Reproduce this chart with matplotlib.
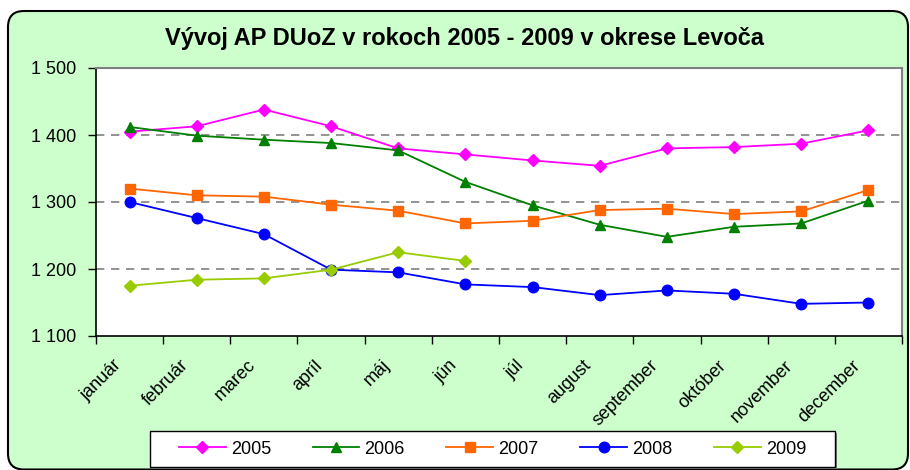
import matplotlib
matplotlib.use("Agg")
import matplotlib.pyplot as plt
from matplotlib.patches import FancyBboxPatch, Rectangle
from matplotlib.ticker import FuncFormatter, FixedLocator
from matplotlib.transforms import ScaledTranslation

plt.rcParams['font.family'] = ['Liberation Sans', 'DejaVu Sans']

months = ["január", "február", "marec", "apríl", "máj", "jún", "júl",
          "august", "september", "október", "november", "december"]

v2005 = [1405, 1413, 1438, 1413, 1380, 1371, 1362, 1354, 1380, 1382, 1387, 1407]
v2006 = [1412, 1399, 1393, 1388, 1377, 1330, 1295, 1266, 1248, 1263, 1268, 1302]
v2007 = [1320, 1310, 1308, 1296, 1287, 1268, 1272, 1288, 1290, 1282, 1286, 1318]
v2008 = [1300, 1276, 1252, 1199, 1195, 1177, 1173, 1161, 1168, 1163, 1148, 1150]
v2009 = [1175, 1184, 1186, 1199, 1225, 1212]

series = [
    ("2005", v2005, "#FF00FF", "D", 6.6),
    ("2006", v2006, "#008000", "^", 7.8),
    ("2007", v2007, "#FF6600", "s", 7.2),
    ("2008", v2008, "#0000FF", "o", 7.6),
    ("2009", v2009, "#99CC00", "D", 6.6),
]

title = "Vývoj AP DUoZ v rokoch 2005 - 2009 v okrese Levoča"
yticks = [1100, 1200, 1300, 1400, 1500]

W, H = 910, 470
fig = plt.figure(figsize=(W / 100, H / 100), dpi=100, facecolor="white")

# rounded green background
bg = FancyBboxPatch((8, 0.5), 900, H - 11 - 0.5,
                    boxstyle="round,pad=0,rounding_size=16",
                    transform=None, facecolor="#CCFFCC", edgecolor="black",
                    linewidth=1.5, zorder=-10)
fig.patches.append(bg)

# legend frame with shadow (pixel coords)
shadow = Rectangle((152, 1), 685, 36, transform=None, facecolor="#808080",
                   edgecolor="none", zorder=-9)
frame = Rectangle((150, 3), 685, 36, transform=None, facecolor="white",
                  edgecolor="black", linewidth=1, zorder=-8)
fig.patches.append(shadow)
fig.patches.append(frame)

ax = fig.add_axes([96 / W, 1 - 336 / H, (902 - 96) / W, (336 - 68) / H])
ax.set_zorder(1)
ax.set_facecolor("white")

x = list(range(len(months)))
for name, vals, color, mk, ms in series:
    ax.plot(x[:len(vals)], vals, color=color, marker=mk, markersize=ms,
            markerfacecolor=color, markeredgecolor=color, markeredgewidth=1,
            linewidth=1.3, label=name, zorder=3)

ax.set_xlim(-0.5, len(months) - 0.5)
ax.set_ylim(1100, 1500)
ax.set_yticks(yticks)
ax.yaxis.set_major_formatter(FuncFormatter(lambda v, p: f"{int(v):,}".replace(",", " ")))
for yv in yticks[1:-1]:
    ax.axhline(yv, color="#808080", linestyle=(0, (5, 4)), linewidth=1.2, zorder=1)

ax.set_xticks(x)
ax.set_xticklabels(months, rotation=45, ha="right", rotation_mode="anchor")
ax.xaxis.set_minor_locator(FixedLocator([i - 0.5 for i in range(len(months) + 1)]))
ax.tick_params(axis="x", which="major", length=0, pad=15, labelsize=13)
ax.tick_params(axis="x", which="minor", length=6, width=1, direction="out", color="black")
ax.tick_params(axis="y", which="major", length=6, width=1, direction="out", pad=8, labelsize=13)
offset = ScaledTranslation(-0.17, 0, fig.dpi_scale_trans)
for lab in ax.get_xticklabels():
    lab.set_transform(lab.get_transform() + offset)

for s in ["left", "bottom"]:
    ax.spines[s].set_color("black")
    ax.spines[s].set_linewidth(1.2)
for s in ["top", "right"]:
    ax.spines[s].set_color("#808080")
    ax.spines[s].set_linewidth(1.5)

fig.text(465 / W, 1 - 38 / H, title, ha="center", va="center",
         fontsize=17, fontweight="bold")

leg = ax.legend(loc="center", bbox_to_anchor=(492.5 / W, 1 - 449 / H),
                bbox_transform=fig.transFigure, ncol=5, fontsize=13,
                frameon=False, handlelength=2.6, handletextpad=0.28,
                columnspacing=2.3, borderpad=0.5, numpoints=1)

fig.savefig("out.png", dpi=100, facecolor="white")
